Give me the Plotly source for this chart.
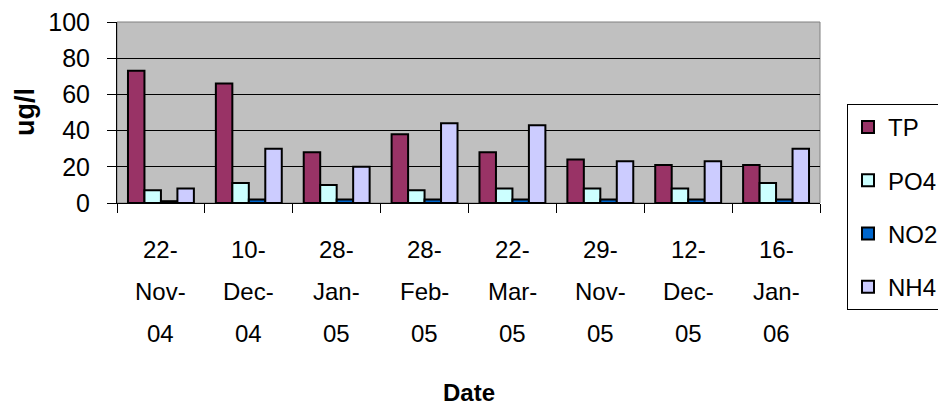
import plotly.graph_objects as go

categories = ["22-Nov-04", "10-Dec-04", "28-Jan-05", "28-Feb-05",
              "22-Mar-05", "29-Nov-05", "12-Dec-05", "16-Jan-06"]
tp = [73, 66, 28, 38, 28, 24, 21, 21]
po4 = [7, 11, 10, 7, 8, 8, 8, 11]
no2 = [1, 2, 2, 2, 2, 2, 2, 2]
nh4 = [8, 30, 20, 44, 43, 23, 23, 30]
y_ticks = [0, 20, 40, 60, 80, 100]

series = [("TP", tp, "#993366"), ("PO4", po4, "#CCFFFF"),
          ("NO2", no2, "#0066CC"), ("NH4", nh4, "#CCCCFF")]

FONT = "Arial, Liberation Sans, sans-serif"
W, H = 938, 408
L, R, T, B = 117, 118, 22, 205
plot_h = H - T - B

fig = go.Figure()
for name, vals, col in series:
    fig.add_trace(go.Bar(x=categories, y=vals, name=name, legendgroup=name,
                         marker=dict(color=col, line=dict(color="black", width=2))))

def py(pix_y):
    return (H - B - pix_y) / plot_h

ann = []
line_y = [249, 291, 333]
for c in categories:
    parts = c.split("-")
    lines = [parts[0] + "-", parts[1] + "-", parts[2]]
    for ln, yy in zip(lines, line_y):
        ann.append(dict(x=c, xref="x", y=py(yy), yref="paper", text=ln, showarrow=False,
                        xanchor="center", yanchor="middle",
                        font=dict(family=FONT, size=24, color="black")))
ann.append(dict(x=0.5, xref="paper", y=py(392), yref="paper", text="<b>Date</b>",
                showarrow=False, xanchor="center", yanchor="middle",
                font=dict(family=FONT, size=24, color="black")))
ann.append(dict(x=(25 - L) / (W - L - R), xref="paper", y=py(112), yref="paper",
                text="<b>ug/l</b>", textangle=-90, showarrow=False,
                xanchor="center", yanchor="middle",
                font=dict(family=FONT, size=27, color="black")))

fig.update_layout(
    width=W, height=H,
    margin=dict(l=L, r=R, t=T, b=B, pad=0, autoexpand=False),
    paper_bgcolor="white", plot_bgcolor="#C0C0C0",
    barmode="group", bargap=0.25, bargroupgap=0,
    font=dict(family=FONT, size=24, color="black"),
    showlegend=True,
    legend=dict(x=(847 - L) / (W - L - R), y=py(104), xanchor="left", yanchor="top",
                bordercolor="black", borderwidth=1, bgcolor="white",
                font=dict(family=FONT, size=24, color="black"),
                traceorder="grouped", tracegroupgap=19, maxheight=300),
    annotations=ann,
    shapes=[dict(type="rect", xref="paper", yref="paper", x0=0, x1=1, y0=0, y1=1,
                 line=dict(color="#808080", width=1), layer="below")],
    xaxis=dict(type="category", showticklabels=False, ticks="outside", ticklen=9,
               tickcolor="black", tickwidth=1, tickson="boundaries",
               showline=True, linecolor="black", linewidth=1, showgrid=False,
               zeroline=False),
    yaxis=dict(range=[0, 100], tickvals=y_ticks, ticks="outside", ticklen=9,
               tickcolor="black", tickwidth=1, showline=True, linecolor="black",
               linewidth=1, showgrid=True, gridcolor="black", gridwidth=1,
               zeroline=False, tickfont=dict(family=FONT, size=25, color="black"),
               ticklabelstandoff=12),
)

fig.write_html("out.html", config={"displayModeBar": False},
               post_script="document.body.style.margin='0';document.body.style.overflow='hidden';")
